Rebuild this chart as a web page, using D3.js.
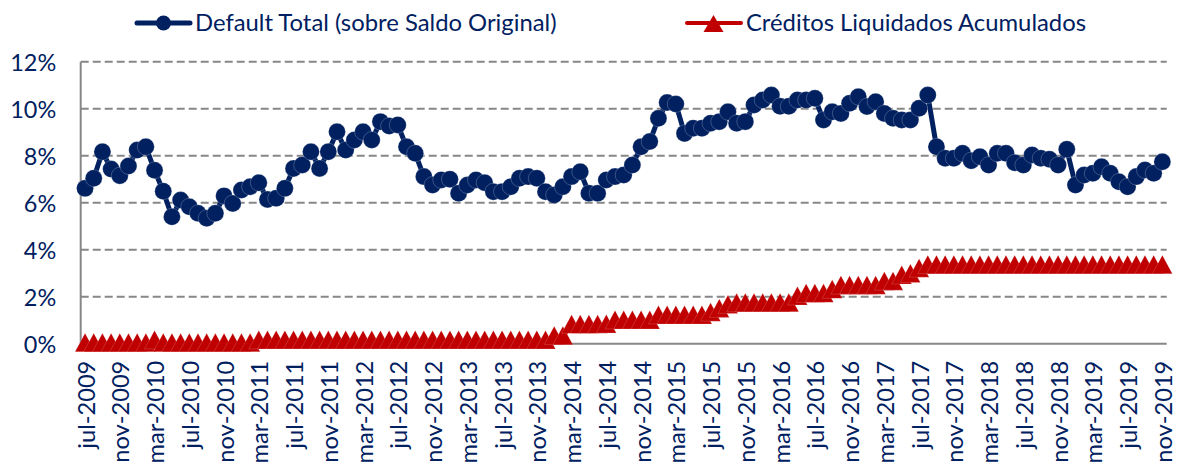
<!DOCTYPE html>
<html>
<head>
<meta charset="utf-8">
<script src="https://cdn.jsdelivr.net/npm/d3@7"></script>
<style>
  html, body { margin: 0; padding: 0; background: #ffffff; }
  svg { display: block; }
  text { font-family: Lato, "Open Sans", "Noto Sans", sans-serif; fill: #002060; }
</style>
</head>
<body>
<svg id="chart" width="1177" height="464"></svg>
<script>
// ---------------- DATA ----------------
const categories = [
  "jul-2009","ago-2009","sep-2009","oct-2009","nov-2009","dic-2009",
  "ene-2010","feb-2010","mar-2010","abr-2010","may-2010","jun-2010","jul-2010","ago-2010","sep-2010","oct-2010","nov-2010","dic-2010",
  "ene-2011","feb-2011","mar-2011","abr-2011","may-2011","jun-2011","jul-2011","ago-2011","sep-2011","oct-2011","nov-2011","dic-2011",
  "ene-2012","feb-2012","mar-2012","abr-2012","may-2012","jun-2012","jul-2012","ago-2012","sep-2012","oct-2012","nov-2012","dic-2012",
  "ene-2013","feb-2013","mar-2013","abr-2013","may-2013","jun-2013","jul-2013","ago-2013","sep-2013","oct-2013","nov-2013","dic-2013",
  "ene-2014","feb-2014","mar-2014","abr-2014","may-2014","jun-2014","jul-2014","ago-2014","sep-2014","oct-2014","nov-2014","dic-2014",
  "ene-2015","feb-2015","mar-2015","abr-2015","may-2015","jun-2015","jul-2015","ago-2015","sep-2015","oct-2015","nov-2015","dic-2015",
  "ene-2016","feb-2016","mar-2016","abr-2016","may-2016","jun-2016","jul-2016","ago-2016","sep-2016","oct-2016","nov-2016","dic-2016",
  "ene-2017","feb-2017","mar-2017","abr-2017","may-2017","jun-2017","jul-2017","ago-2017","sep-2017","oct-2017","nov-2017","dic-2017",
  "ene-2018","feb-2018","mar-2018","abr-2018","may-2018","jun-2018","jul-2018","ago-2018","sep-2018","oct-2018","nov-2018","dic-2018",
  "ene-2019","feb-2019","mar-2019","abr-2019","may-2019","jun-2019","jul-2019","ago-2019","sep-2019","oct-2019","nov-2019"
];

const defaultTotal = [
  6.61, 7.04, 8.17, 7.43, 7.15, 7.56, 8.24, 8.38, 7.38, 6.49,
  5.40, 6.11, 5.83, 5.55, 5.34, 5.55, 6.29, 5.97, 6.54, 6.68,
  6.85, 6.14, 6.19, 6.61, 7.46, 7.60, 8.17, 7.46, 8.17, 9.02,
  8.24, 8.67, 9.02, 8.67, 9.45, 9.26, 9.31, 8.38, 8.10, 7.11,
  6.75, 6.97, 7.00, 6.40, 6.75, 6.97, 6.85, 6.47, 6.47, 6.68,
  7.04, 7.11, 7.04, 6.47, 6.33, 6.68, 7.11, 7.32, 6.40, 6.40,
  6.97, 7.11, 7.18, 7.60, 8.38, 8.60, 9.59, 10.26, 10.20, 8.95,
  9.17, 9.17, 9.38, 9.45, 9.87, 9.38, 9.45, 10.16, 10.37, 10.58,
  10.10, 10.10, 10.37, 10.37, 10.44, 9.52, 9.87, 9.80, 10.23, 10.51,
  10.09, 10.30, 9.80, 9.59, 9.52, 9.52, 10.02, 10.58, 8.38, 7.89,
  7.89, 8.10, 7.79, 7.96, 7.60, 8.10, 8.10, 7.70, 7.60, 8.03,
  7.89, 7.85, 7.60, 8.27, 6.75, 7.18, 7.25, 7.53, 7.25, 6.89,
  6.68, 7.11, 7.39, 7.25, 7.74
];

const creditosLiquidados = [
  0.00, 0.00, 0.00, 0.00, 0.00, 0.00, 0.00, 0.00, 0.12, 0.00,
  0.00, 0.00, 0.00, 0.00, 0.00, 0.00, 0.00, 0.00, 0.00, 0.00,
  0.12, 0.12, 0.12, 0.12, 0.12, 0.12, 0.12, 0.12, 0.12, 0.12,
  0.12, 0.12, 0.12, 0.12, 0.12, 0.12, 0.12, 0.12, 0.12, 0.12,
  0.12, 0.12, 0.12, 0.12, 0.12, 0.12, 0.12, 0.12, 0.12, 0.12,
  0.12, 0.12, 0.12, 0.12, 0.30, 0.30, 0.78, 0.78, 0.78, 0.78,
  0.80, 0.97, 0.97, 0.97, 0.97, 0.97, 1.18, 1.18, 1.18, 1.18,
  1.18, 1.18, 1.30, 1.46, 1.63, 1.70, 1.70, 1.70, 1.70, 1.70,
  1.70, 1.70, 1.99, 2.10, 2.10, 2.10, 2.27, 2.45, 2.45, 2.45,
  2.45, 2.45, 2.62, 2.62, 2.88, 2.95, 3.17, 3.32, 3.32, 3.32,
  3.32, 3.32, 3.32, 3.32, 3.32, 3.32, 3.32, 3.32, 3.32, 3.32,
  3.32, 3.32, 3.32, 3.32, 3.32, 3.32, 3.32, 3.32, 3.32, 3.32,
  3.32, 3.32, 3.32, 3.32, 3.32
];

const xTickLabels = [
  "jul-2009","nov-2009","mar-2010","jul-2010","nov-2010","mar-2011","jul-2011","nov-2011",
  "mar-2012","jul-2012","nov-2012","mar-2013","jul-2013","nov-2013","mar-2014","jul-2014",
  "nov-2014","mar-2015","jul-2015","nov-2015","mar-2016","jul-2016","nov-2016","mar-2017",
  "jul-2017","nov-2017","mar-2018","jul-2018","nov-2018","mar-2019","jul-2019","nov-2019"
];
const yTickValues = [0, 2, 4, 6, 8, 10, 12];
const seriesNames = ["Default Total (sobre Saldo Original)", "Créditos Liquidados Acumulados"];

// ---------------- LAYOUT ----------------
const NAVY = "#002060", RED = "#C00000", GRID = "#878787";
const plot = { left: 80.7, right: 1166.7, top: 61.7, bottom: 343.7 };

const svg = d3.select("#chart");

// helper: choose a font size so that a sample string has a target width
function fitSize(sample, targetWidth) {
  const t = svg.append("text").attr("font-size", 100).text(sample);
  const w = t.node().getComputedTextLength();
  t.remove();
  return 100 * targetWidth / w;
}
const yTickSize = fitSize("12%", 46);
const xTickSize = fitSize("jul-2009", 88);
const legendSize = (fitSize(seriesNames[0], 350) + fitSize(seriesNames[1], 351)) / 2;

const x = d3.scalePoint().domain(categories).range([plot.left, plot.right]).padding(0.5);
const y = d3.scaleLinear().domain([0, 12]).range([plot.bottom, plot.top]);

// gridlines
svg.append("g")
  .selectAll("line")
  .data(yTickValues.filter(d => d > 0))
  .join("line")
  .attr("x1", plot.left).attr("x2", plot.right)
  .attr("y1", d => y(d)).attr("y2", d => y(d))
  .attr("stroke", GRID).attr("stroke-width", 2)
  .attr("stroke-dasharray", "8,4");

// y axis
const yAxis = svg.append("g")
  .attr("transform", `translate(${plot.left},0)`)
  .call(d3.axisLeft(y).tickValues(yTickValues).tickSize(0).tickPadding(24.5).tickFormat(d => d + "%"));
yAxis.select(".domain").remove();
yAxis.selectAll("text")
  .attr("font-size", yTickSize)
  .attr("font-family", "Lato, 'Open Sans', sans-serif")
  .attr("fill", NAVY)
  .attr("dy", "0.36em");

svg.append("line")
  .attr("x1", plot.left).attr("x2", plot.left)
  .attr("y1", plot.top).attr("y2", plot.bottom)
  .attr("stroke", GRID).attr("stroke-width", 2);

// x axis
const xAxis = svg.append("g")
  .attr("transform", `translate(0,${plot.bottom})`)
  .call(d3.axisBottom(x).tickValues(xTickLabels).tickSize(0));
xAxis.select(".domain").remove();
xAxis.selectAll("text")
  .attr("font-size", xTickSize)
  .attr("font-family", "Lato, 'Open Sans', sans-serif")
  .attr("fill", NAVY)
  .attr("text-anchor", "end")
  .attr("transform", "rotate(-90)")
  .attr("x", -17)
  .attr("y", 9)
  .attr("dy", 0);

svg.append("line")
  .attr("x1", plot.left).attr("x2", plot.right)
  .attr("y1", plot.bottom).attr("y2", plot.bottom)
  .attr("stroke", GRID).attr("stroke-width", 2);

// series 1: Default Total
const line = d3.line().x((d, i) => x(categories[i])).y(d => y(d));
svg.append("path")
  .datum(defaultTotal)
  .attr("d", line)
  .attr("fill", "none")
  .attr("stroke", NAVY)
  .attr("stroke-width", 5)
  .attr("stroke-linejoin", "round");

svg.append("g")
  .selectAll("circle")
  .data(defaultTotal)
  .join("circle")
  .attr("cx", (d, i) => x(categories[i]))
  .attr("cy", d => y(d))
  .attr("r", 8.5)
  .attr("fill", NAVY)
  .attr("stroke", "#ffffff").attr("stroke-width", 0.5).attr("stroke-opacity", 0.45);

// series 2: Créditos Liquidados
svg.append("path")
  .datum(creditosLiquidados)
  .attr("d", line)
  .attr("fill", "none")
  .attr("stroke", RED)
  .attr("stroke-width", 4)
  .attr("stroke-linejoin", "round");

const tri = "M0,-10.5L10,8L-10,8Z";
svg.append("g")
  .selectAll("path")
  .data(creditosLiquidados)
  .join("path")
  .attr("d", tri)
  .attr("transform", (d, i) => `translate(${x(categories[i])},${y(d)})`)
  .attr("fill", RED)
  .attr("stroke", "#ffffff").attr("stroke-width", 0.4).attr("stroke-opacity", 0.4);

// legend
const leg = svg.append("g");
// item 1
leg.append("line").attr("x1", 137).attr("x2", 190).attr("y1", 23).attr("y2", 23)
  .attr("stroke", NAVY).attr("stroke-width", 5).attr("stroke-linecap", "round");
leg.append("circle").attr("cx", 163.5).attr("cy", 23).attr("r", 7.5).attr("fill", NAVY);
leg.append("text").attr("x", 195).attr("y", 31)
  .attr("font-size", legendSize).attr("fill", NAVY).text(seriesNames[0]);
// item 2
leg.append("line").attr("x1", 687).attr("x2", 741).attr("y1", 23).attr("y2", 23)
  .attr("stroke", RED).attr("stroke-width", 4).attr("stroke-linecap", "round");
leg.append("path").attr("d", "M0,-9L10,8L-10,8Z").attr("transform", "translate(713.5,24)").attr("fill", RED);
leg.append("text").attr("x", 746).attr("y", 31)
  .attr("font-size", legendSize).attr("fill", NAVY).text(seriesNames[1]);
</script>
</body>
</html>
